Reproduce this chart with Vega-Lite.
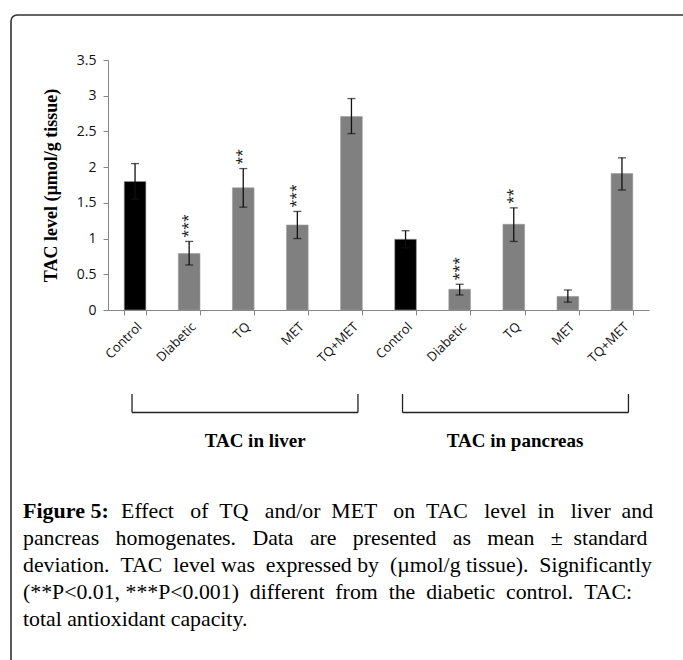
{
  "$schema": "https://vega.github.io/schema/vega-lite/v6.json",
  "width": 684,
  "height": 657,
  "autosize": {"type": "none"},
  "padding": {"left": 11, "top": 15, "right": -12, "bottom": -12},
  "background": "white",
  "config": {
    "view": {"stroke": "#333333", "strokeWidth": 1.6, "cornerRadius": 6},
    "axis": {"grid": false, "domainColor": "#868686", "tickColor": "#868686", "tickSize": 5, "labelColor": "#111111", "labelFont": "Open Sans"}
  },
  "title": {
    "text": "Figure 5:",
    "subtitle": [
      "\u200b\u00a0\u00a0\u00a0\u00a0\u00a0\u00a0\u00a0\u00a0\u00a0\u00a0\u00a0\u00a0\u00a0\u00a0\u00a0\u00a0\u00a0\u00a0Effect \u00a0\u00a0of \u00a0TQ \u00a0\u00a0and/or \u00a0MET \u00a0\u00a0on \u00a0TAC \u00a0\u00a0level \u00a0in \u00a0\u00a0liver \u00a0and",
      "pancreas \u00a0\u00a0homogenates. \u00a0\u00a0Data \u00a0\u00a0are \u00a0\u00a0presented \u00a0\u00a0as \u00a0\u00a0mean \u00a0\u00a0± \u00a0standard",
      "deviation. \u00a0TAC \u00a0level was \u00a0expressed by \u00a0(µmol/g tissue). \u00a0Significantly",
      "(**P<0.01, ***P<0.001) \u00a0different \u00a0from \u00a0the \u00a0diabetic \u00a0control. \u00a0TAC:",
      "total antioxidant capacity."
    ],
    "orient": "bottom",
    "anchor": "start",
    "frame": "group",
    "offset": -171,
    "dx": 12,
    "font": "Liberation Serif",
    "fontSize": 22,
    "fontWeight": "bold",
    "color": "#000000",
    "subtitleFont": "Liberation Serif",
    "subtitleFontSize": 21.8,
    "subtitleFontWeight": "normal",
    "subtitleColor": "#000000",
    "subtitleLineHeight": 27,
    "subtitlePadding": -22
  },
  "datasets": {
    "bars": [
      {"key": "L|Control", "type": "control", "mean": 1.80, "lo": 1.55, "hi": 2.05, "sig": ""},
      {"key": "L|Diabetic", "type": "treated", "mean": 0.79, "lo": 0.63, "hi": 0.96, "sig": "***"},
      {"key": "L|TQ", "type": "treated", "mean": 1.71, "lo": 1.44, "hi": 1.98, "sig": "**"},
      {"key": "L|MET", "type": "treated", "mean": 1.19, "lo": 1.00, "hi": 1.38, "sig": "***"},
      {"key": "L|TQ+MET", "type": "treated", "mean": 2.71, "lo": 2.47, "hi": 2.96, "sig": ""},
      {"key": "P|Control", "type": "control", "mean": 0.99, "lo": 0.87, "hi": 1.11, "sig": ""},
      {"key": "P|Diabetic", "type": "treated", "mean": 0.29, "lo": 0.21, "hi": 0.36, "sig": "***"},
      {"key": "P|TQ", "type": "treated", "mean": 1.20, "lo": 0.96, "hi": 1.43, "sig": "**"},
      {"key": "P|MET", "type": "treated", "mean": 0.19, "lo": 0.11, "hi": 0.28, "sig": ""},
      {"key": "P|TQ+MET", "type": "treated", "mean": 1.91, "lo": 1.68, "hi": 2.13, "sig": ""}
    ],
    "groups": [
      {"group": "liver", "label": "TAC in liver", "first": "L|Control", "last": "L|TQ+MET", "mid": "L|TQ"},
      {"group": "pancreas", "label": "TAC in pancreas", "first": "P|Control", "last": "P|TQ+MET", "mid": "P|TQ"}
    ]
  },
  "layer": [
    {
      "data": {"name": "bars"},
      "mark": {"type": "bar", "stroke": "#9a9a9a", "strokeWidth": 0.6},
      "encoding": {
        "x": {
          "field": "key", "type": "nominal", "sort": null,
          "scale": {
            "domain": ["L|Control", "L|Diabetic", "L|TQ", "L|MET", "L|TQ+MET", "P|Control", "P|Diabetic", "P|TQ", "P|MET", "P|TQ+MET"],
            "range": [97, 638], "paddingInner": 0.6, "paddingOuter": 0.3
          },
          "axis": {
            "orient": "bottom", "offset": -362, "title": null, "labelAngle": -45, "labelFontSize": 13,
            "labelExpr": "split(datum.value, '|')[1]", "tickBand": "extent", "labelPadding": 5
          }
        },
        "y": {
          "field": "mean", "type": "quantitative",
          "scale": {"domain": [0, 3.5], "range": [295, 45], "nice": false},
          "axis": {
            "offset": -97, "values": [0, 0.5, 1, 1.5, 2, 2.5, 3, 3.5], "format": "~g", "labelFontSize": 14,
            "title": "TAC level (µmol/g tissue)", "titleFont": "Liberation Serif", "titleFontSize": 18,
            "titleFontWeight": "bold", "titleColor": "#000000", "titlePadding": 16, "labelPadding": 7
          }
        },
        "color": {
          "field": "type", "type": "nominal",
          "scale": {"domain": ["control", "treated"], "range": ["#000000", "#808080"]},
          "legend": null
        }
      }
    },
    {
      "data": {"name": "bars"},
      "mark": {"type": "rule", "color": "#111111", "strokeWidth": 1.3},
      "encoding": {
        "x": {"field": "key", "type": "nominal"},
        "y": {"field": "lo", "type": "quantitative"},
        "y2": {"field": "hi"}
      }
    },
    {
      "data": {"name": "bars"},
      "mark": {"type": "tick", "color": "#111111", "thickness": 1.3, "size": 8, "orient": "horizontal"},
      "encoding": {
        "x": {"field": "key", "type": "nominal"},
        "y": {"field": "hi", "type": "quantitative"}
      }
    },
    {
      "data": {"name": "bars"},
      "mark": {"type": "tick", "color": "#111111", "thickness": 1.3, "size": 8, "orient": "horizontal"},
      "encoding": {
        "x": {"field": "key", "type": "nominal"},
        "y": {"field": "lo", "type": "quantitative"}
      }
    },
    {
      "data": {"name": "bars"},
      "mark": {"type": "text", "angle": 270, "align": "left", "baseline": "middle", "dx": 4, "font": "Open Sans", "fontSize": 14, "color": "#111111"},
      "encoding": {
        "x": {"field": "key", "type": "nominal"},
        "y": {"field": "hi", "type": "quantitative"},
        "text": {"field": "sig"}
      }
    },
    {
      "data": {"name": "groups"},
      "mark": {"type": "rule", "color": "#222222", "strokeWidth": 1.3},
      "encoding": {
        "x": {"field": "first", "type": "nominal", "bandPosition": 0.36},
        "x2": {"field": "last", "bandPosition": 0.8},
        "y": {"datum": -1.435}
      }
    },
    {
      "data": {"name": "groups"},
      "mark": {"type": "rule", "color": "#222222", "strokeWidth": 1.3},
      "encoding": {
        "x": {"field": "first", "type": "nominal", "bandPosition": 0.36},
        "y": {"datum": -1.176},
        "y2": {"datum": -1.435}
      }
    },
    {
      "data": {"name": "groups"},
      "mark": {"type": "rule", "color": "#222222", "strokeWidth": 1.3},
      "encoding": {
        "x": {"field": "last", "type": "nominal", "bandPosition": 0.8},
        "y": {"datum": -1.176},
        "y2": {"datum": -1.435}
      }
    },
    {
      "data": {"name": "groups"},
      "transform": [{"filter": "datum.group === 'liver'"}],
      "mark": {"type": "text", "font": "Liberation Serif", "fontWeight": "bold", "fontSize": 19, "baseline": "alphabetic", "align": "center", "color": "#000000"},
      "encoding": {
        "x": {"field": "mid", "type": "nominal", "bandPosition": 1.05},
        "y": {"datum": -1.918},
        "text": {"field": "label"}
      }
    },
    {
      "data": {"name": "groups"},
      "transform": [{"filter": "datum.group === 'pancreas'"}],
      "mark": {"type": "text", "font": "Liberation Serif", "fontWeight": "bold", "fontSize": 19, "baseline": "alphabetic", "align": "center", "color": "#000000"},
      "encoding": {
        "x": {"field": "mid", "type": "nominal", "bandPosition": 0.56},
        "y": {"datum": -1.918},
        "text": {"field": "label"}
      }
    }
  ]
}
